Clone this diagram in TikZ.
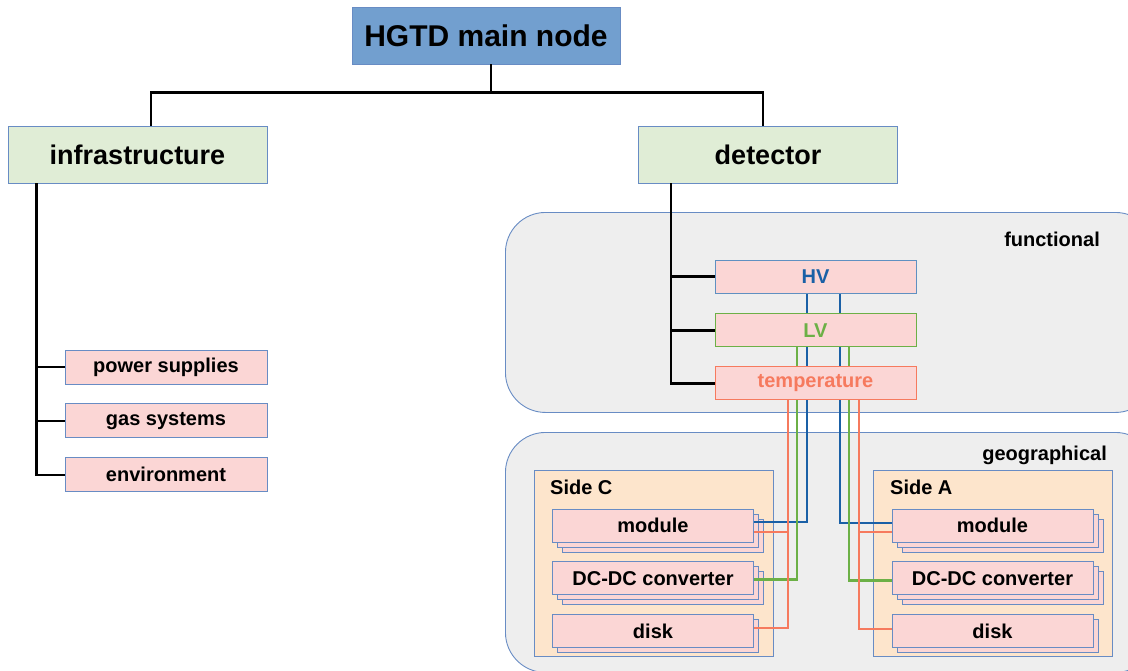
\documentclass[tikz,border=0pt]{standalone}
\usepackage{fontspec}
\setmainfont{Liberation Sans}
\usetikzlibrary{positioning, shadows}
\definecolor{hgtdblue}{RGB}{114,159,207}
\definecolor{hgtdedge}{RGB}{104,140,196}
\definecolor{hgtdgreen}{RGB}{224,237,214}
\definecolor{hgtdpink}{RGB}{251,214,213}
\definecolor{hgtdsand}{RGB}{253,229,204}
\definecolor{hgtdgray}{RGB}{238,238,238}
\definecolor{hvcol}{RGB}{26,96,166}
\definecolor{lvcol}{RGB}{108,176,70}
\definecolor{tcol}{RGB}{246,122,94}
\pgfdeclarelayer{bg}
\pgfdeclarelayer{wires}
\pgfsetlayers{bg,wires,main}

\begin{document}
\begin{tikzpicture}[x=1pt, y=-1pt,
  box/.style={rectangle, draw=hgtdedge, line width=0.9pt, inner sep=0pt, font=\bfseries\fontsize{20}{24}\selectfont},
  rootbox/.style={box, fill=hgtdblue, minimum width=268pt, minimum height=57pt, font=\bfseries\fontsize{30}{36}\selectfont},
  catbox/.style={box, fill=hgtdgreen, minimum width=259pt, minimum height=57pt, font=\bfseries\fontsize{27}{32}\selectfont},
  itembox/.style={box, fill=hgtdpink, minimum width=202pt, minimum height=34pt},
  funcbox/.style={itembox, minimum width=201pt, minimum height=33pt},
  diskbox/.style={itembox, minimum width=201pt, minimum height=33pt,
    copy shadow={shadow xshift=5pt, shadow yshift=-5pt, fill=hgtdpink}},
  stackbox/.style={itembox, minimum width=201pt, minimum height=33pt,
    copy shadow={shadow xshift=10pt, shadow yshift=-10pt, fill=hgtdpink},
    copy shadow={shadow xshift=5pt, shadow yshift=-5pt, fill=hgtdpink}},
  panel/.style={rectangle, draw=hgtdedge, fill=hgtdgray, line width=0.9pt, rounded corners=40pt, anchor=north west},
  sidebox/.style={rectangle, draw=hgtdedge, fill=hgtdsand, line width=0.9pt, minimum width=239pt, minimum height=186pt, anchor=north west},
  paneltitle/.style={font=\bfseries\fontsize{20}{24}\selectfont, inner sep=0pt},
  tree/.style={line width=2.4pt},
  wire/.style={line width=2.4pt}
]
\useasboundingbox (0,0) rectangle (1128,670);

% functional / geographical views
\begin{pgfonlayer}{bg}
\begin{scope}
\clip (0,0) rectangle (1128,670);
\node[panel, minimum width=650pt, minimum height=200pt] (functional) at (505,212) {};
\node[panel, minimum width=650pt, minimum height=240pt] (geographical) at (505,432) {};
\end{scope}
\node[paneltitle, anchor=east] (funclabel) at (1100,239) {functional};
\node[paneltitle, anchor=east] (geolabel) at (1107,455) {geographical};

\node[sidebox] (sideC) at (534,470) {};
\node[sidebox] (sideA) at (873,470) {};
\node[paneltitle, anchor=west] (sideClabel) at (550,487) {Side C};
\node[paneltitle, anchor=west] (sideAlabel) at (890,487) {Side A};

\node[stackbox] (modC) at (653,525.5) {module};
\node[stackbox, below=19pt of modC] (dcC) {DC-DC converter};
\node[diskbox, below=19pt of dcC] (diskC) {disk};
\node[stackbox] (modA) at (992.5,525.5) {module};
\node[stackbox, below=19pt of modA] (dcA) {DC-DC converter};
\node[diskbox, below=19pt of dcA] (diskA) {disk};
\end{pgfonlayer}

% tree
\node[rootbox] (root) at (486,35.5) {HGTD main node};
\node[catbox] (infra) at (137.5,154.5) {infrastructure};
\node[catbox] (det) at (768,154.5) {detector};

\node[itembox] (power) at (166,367) {power supplies};
\node[itembox, below=19pt of power] (gas) {gas systems};
\node[itembox, below=19pt of gas] (env) {environment};

\node[funcbox, draw=hvcol!70, text=hvcol] (hv) at (815.5,276.5) {HV};
\node[funcbox, draw=lvcol, text=lvcol, below=20pt of hv] (lv) {LV};
\node[funcbox, draw=tcol, text=tcol, below=19pt of lv] (temp) {temperature};

\draw[tree] ([xshift=5pt]root.south) -- ++(0,28) coordinate (bus);
\draw[tree] (bus) -| ([xshift=13.5pt]infra.north);
\draw[tree] (bus) -| ([xshift=-5pt]det.north);

\coordinate (itrunk) at ([xshift=29pt]infra.south west);
\draw[tree] (itrunk) |- (env.west);
\foreach \n in {power,gas}
  \draw[tree] (\n.west -| itrunk) -- (\n.west);

\coordinate (dtrunk) at ([xshift=33pt]det.south west);
\draw[tree] (dtrunk) |- (temp.west);
\foreach \n in {hv,lv}
  \draw[tree] (\n.west -| dtrunk) -- (\n.west);

% links to the geographical parts
\begin{pgfonlayer}{wires}
\draw[wire, hvcol] ([xshift=-8.5pt]hv.south) |- ([yshift=3.5pt]modC.east);
\draw[wire, lvcol] ([xshift=-18.5pt]lv.south) |- ([yshift=-1pt]dcC.east);
\draw[wire, tcol] ([xshift=-27.5pt]temp.south) |- ([yshift=-6.5pt]modC.east);
\draw[wire, tcol] ([xshift=-27.5pt]temp.south) |- ([yshift=3.5pt]diskC.east);

\draw[wire, hvcol] ([xshift=24.5pt]hv.south) |- ([yshift=2.5pt]modA.west);
\draw[wire, lvcol] ([xshift=33.5pt]lv.south) |- ([yshift=-2pt]dcA.west);
\draw[wire, tcol] ([xshift=43.5pt]temp.south) |- ([yshift=-6.5pt]modA.west);
\draw[wire, tcol] ([xshift=43.5pt]temp.south) |- ([yshift=2.5pt]diskA.west);
\end{pgfonlayer}

\end{tikzpicture}
\end{document}
